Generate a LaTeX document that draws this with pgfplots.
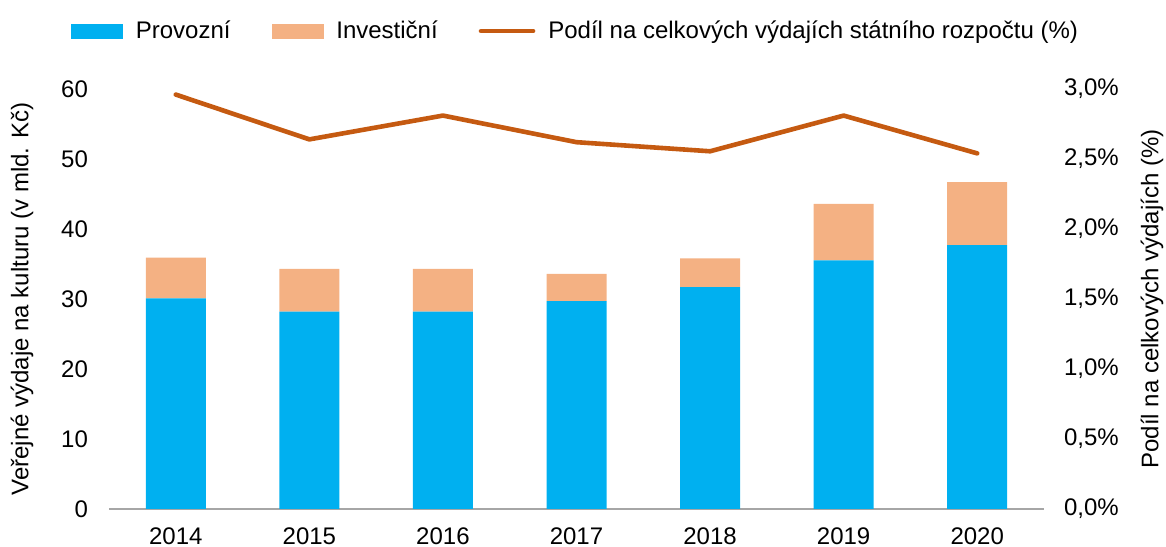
\documentclass[border=0pt]{standalone}
\usepackage{fontspec}
\setmainfont{Liberation Sans}
\usepackage{pgfplots}
\usepackage{pgfplotstable}
\pgfplotsset{compat=1.18}
\definecolor{provoz}{HTML}{00B0F0}
\definecolor{invest}{HTML}{F4B183}
\definecolor{podil}{HTML}{C55A11}
\definecolor{osa}{HTML}{A6A6A6}

% rok: 0 = 2014 ... 6 = 2020; vydaje v mld. Kc, podil v %
\pgfplotstableread{
x provozni investicni podil
0 30.1 5.8 2.96
1 28.2 6.1 2.64
2 28.2 6.1 2.81
3 29.7 3.9 2.62
4 31.7 4.1 2.555
5 35.5 8.1 2.81
6 37.7 9.0 2.54
}\data

\newcommand{\fnt}{\fontsize{12}{14.4}\selectfont}

\begin{document}
\begin{tikzpicture}[font=\fnt]
\begin{axis}[
    scale only axis, width=467.5pt, height=210pt,
    ybar stacked, bar width=30pt,
    xmin=-0.5, xmax=6.5, ymin=0, ymax=60,
    xtick={0,...,6}, xticklabels={2014,2015,2016,2017,2018,2019,2020},
    ytick={0,10,...,60},
    axis x line*=bottom, axis y line*=left,
    x axis line style={draw=osa, line width=0.8pt, -},
    y axis line style={draw=none},
    major tick length=0pt,
    tick label style={font=\fnt},
    /pgf/number format/assume math mode=true,
    xticklabel style={yshift=-6pt},
    yticklabel style={xshift=-7pt},
    ylabel={Veřejné výdaje na kulturu (v mld. Kč)},
    every axis y label/.style={at={(axis description cs:-0.093,0.5)}, rotate=90, anchor=center, font=\fnt},
    legend style={at={(0.5,1.138)}, anchor=center, draw=none, fill=none, font=\fnt,
        legend columns=3, inner sep=0pt,
        /tikz/every odd column/.append style={column sep=4.5pt},
        /tikz/every even column/.append style={column sep=18.5pt}},
    legend cell align=left,
]
\addplot[fill=provoz, draw=none, forget plot] table[x=x, y=provozni]{\data};
\addplot[fill=invest, draw=none, forget plot] table[x=x, y=investicni]{\data};
\addlegendimage{legend image code/.code={\fill[provoz] (0pt,-3.5pt) rectangle (25.5pt,3.5pt);}}
\addlegendentry{Provozní}
\addlegendimage{legend image code/.code={\fill[invest] (0pt,-3.5pt) rectangle (25.5pt,3.5pt);}}
\addlegendentry{Investiční}
\addlegendimage{legend image code/.code={\draw[podil, line width=2.3pt, line cap=round] (0pt,0pt) -- (26pt,0pt);}}
\addlegendentry{Podíl na celkových výdajích státního rozpočtu (\%)}
\coordinate (bbl) at (rel axis cs:-0.11658,-0.09048);
\coordinate (btr) at (rel axis cs:1.13048,1.21190);
\end{axis}
\begin{axis}[
    scale only axis, width=467.5pt, height=210pt,
    xmin=-0.5, xmax=6.5, ymin=0, ymax=3,
    axis x line=none, axis y line*=right,
    y axis line style={draw=none},
    major tick length=0pt,
    ytick={0,0.5,...,3},
    yticklabels={{0,0\%},{0,5\%},{1,0\%},{1,5\%},{2,0\%},{2,5\%},{3,0\%}},
    tick label style={font=\fnt},
    yticklabel style={xshift=6.5pt},
    ylabel={Podíl na celkových výdajích (\%)},
    every axis y label/.style={at={(axis description cs:1.1155,0.5)}, rotate=90, anchor=center, font=\fnt},
]
\addplot[podil, line width=2.3pt, line cap=round, line join=round] table[x=x, y=podil]{\data};
\end{axis}
\pgfresetboundingbox
\path[use as bounding box] (bbl) rectangle (btr);
\end{tikzpicture}
\end{document}
